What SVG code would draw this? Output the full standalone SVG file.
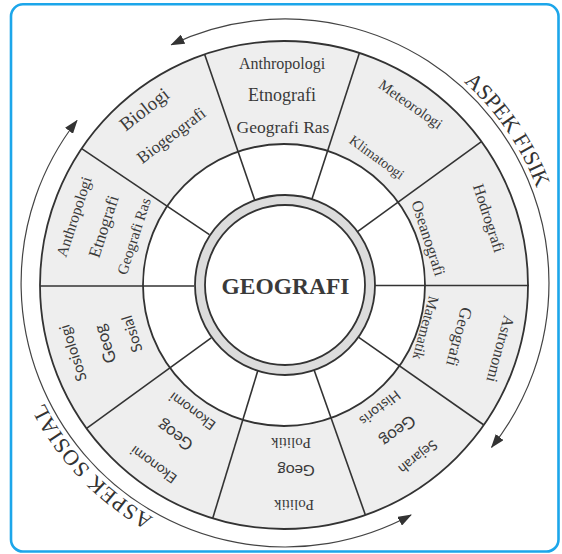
<svg xmlns="http://www.w3.org/2000/svg" width="562" height="554" viewBox="0 0 562 554">
<style>
.ring{stroke:#333;stroke-width:1.8}
.div{stroke:#333;stroke-width:1.6;fill:none}
.ann{stroke:#444;stroke-width:1.2;fill:none}
text{fill:#3a3a3a;text-anchor:middle}
.s{font-family:"Liberation Serif",serif}
.ss{font-family:Lato,"Open Sans",sans-serif}
.asp{font-family:"Liberation Serif",serif;font-size:22px;fill:#333}
</style>
<defs>
<marker id="ah" viewBox="0 0 14 10" refX="13" refY="5" markerWidth="14" markerHeight="10" markerUnits="userSpaceOnUse" orient="auto-start-reverse">
<path d="M0,0 L14,5 L0,10 z" fill="#333"/>
</marker>
<path id="pf" d="M400.8,40.2 A269 269 0 0 1 553.2,261.9"/>
<path id="ps" d="M208.6,540.9 A269 269 0 0 1 23.4,345.8"/>
</defs>
<rect x="11" y="4.3" width="547.5" height="547.2" rx="12" fill="#fff" stroke="#1ca6ea" stroke-width="2.6"/>

<g id="rings">
<circle cx="284" cy="285" r="244" fill="#eeeeee" class="ring"/>
<circle cx="284" cy="285" r="141" fill="#ffffff" class="ring"/>
</g>

<g id="connectors">
<line class="div" x1="374" y1="285.5" x2="529" y2="285.5"/>
<line class="div" x1="356.8" y1="232.1" x2="481.4" y2="141.6"/>
<line class="div" x1="311.8" y1="199.4" x2="359.4" y2="52.9"/>
<line class="div" x1="254.7" y1="199.9" x2="204.6" y2="54.3"/>
<line class="div" x1="209.4" y1="234.7" x2="81.7" y2="148.6"/>
<line class="div" x1="194" y1="286" x2="40" y2="286"/>
<line class="div" x1="211.2" y1="337.9" x2="86.6" y2="428.4"/>
<line class="div" x1="257.7" y1="371.1" x2="212.7" y2="518.3"/>
<line class="div" x1="314" y1="369.8" x2="365.4" y2="515"/>
<line class="div" x1="357.7" y1="336.6" x2="483.9" y2="425"/>
<path class="ann" d="M171.3,44.7 A264 264 0 0 1 491.6,447.3" marker-start="url(#ah)" marker-end="url(#ah)"/>
<path class="ann" d="M411,515 A264 264 0 0 1 77,120.5" marker-start="url(#ah)" marker-end="url(#ah)"/>
</g>

<g id="center">
<circle cx="285" cy="285" r="90" fill="#dcdcdc" class="ring"/>
<circle cx="285" cy="285" r="80" fill="#ffffff" class="ring"/>
<text class="s" x="285.5" y="286" dy="0.35em" font-size="23.5" font-weight="bold" fill="#333">GEOGRAFI</text>
</g>

<g id="aspek-fisik">
<text class="asp"><textPath href="#pf" startOffset="50%">ASPEK FISIK</textPath></text>
</g>
<g id="aspek-sosial">
<text class="asp" letter-spacing="0.8"><textPath href="#ps" startOffset="50%">ASPEK SOSIAL</textPath></text>
</g>

<g id="sec-top">
<text class="s" font-size="16" transform="translate(282,63)" dy="0.35em">Anthropologi</text>
<text class="s" font-size="18" transform="translate(282,95)" dy="0.35em">Etnografi</text>
<text class="s" font-size="17.5" transform="translate(283,127)" dy="0.35em">Geografi Ras</text>
</g>

<g id="sec-topright">
<text class="s" font-size="15" transform="translate(410.8,104) rotate(35)" dy="0.35em">Meteorologi</text>
<text class="s" font-size="14" transform="translate(377,157) rotate(36)" dy="0.35em">Klimatoogi</text>
</g>

<g id="sec-right1">
<text class="s" font-size="16" transform="translate(489,218) rotate(72)" dy="0.35em">Hodrografi</text>
<text class="s" font-size="16" transform="translate(428.6,238) rotate(72)" dy="0.35em">Oseanografi</text>
</g>

<g id="sec-right2">
<text class="s" font-size="16" transform="translate(500.7,349) rotate(105)" dy="0.35em">Astronomi</text>
<text class="s" font-size="17" transform="translate(459.5,337) rotate(105)" dy="0.35em">Geografi</text>
<text class="s" font-size="15" transform="translate(426,328) rotate(105)" dy="0.35em">Matematik</text>
</g>

<g id="sec-bottomright">
<text class="ss" font-size="14" transform="translate(418,457) rotate(142)" dy="0.35em">Sejarah</text>
<text class="ss" font-size="17" transform="translate(398,431) rotate(142)" dy="0.35em">Geog</text>
<text class="ss" font-size="14" transform="translate(380,408) rotate(142)" dy="0.35em">Historis</text>
</g>

<g id="sec-bottom">
<text class="s" font-size="15" transform="translate(294,505) rotate(180)" dy="0.35em">Politik</text>
<text class="ss" font-size="16" transform="translate(296,471) rotate(180)" dy="0.35em">Geog</text>
<text class="s" font-size="15" transform="translate(291,443) rotate(180)" dy="0.35em">Politik</text>
</g>

<g id="sec-bottomleft">
<text class="ss" font-size="14" transform="translate(153.5,464.6) rotate(216)" dy="0.35em">Ekonomi</text>
<text class="ss" font-size="17" transform="translate(175,435.5) rotate(216)" dy="0.35em">Geog</text>
<text class="ss" font-size="14" transform="translate(192.3,411.2) rotate(216)" dy="0.35em">Ekonomi</text>
</g>

<g id="sec-left2">
<text class="ss" font-size="15" transform="translate(73,353) rotate(-108)" dy="0.35em">Sosiologi</text>
<text class="ss" font-size="17" transform="translate(105,344) rotate(-108)" dy="0.35em">Geog</text>
<text class="ss" font-size="15" transform="translate(132,334) rotate(-108)" dy="0.35em">Sosial</text>
</g>

<g id="sec-left1">
<text class="s" font-size="15.5" transform="translate(73.8,216.7) rotate(-72)" dy="0.35em">Anthropologi</text>
<text class="s" font-size="17" transform="translate(103.3,226.3) rotate(-72)" dy="0.35em">Etnografi</text>
<text class="s" font-size="15" transform="translate(133.7,236.2) rotate(-72)" dy="0.35em">Geografi Ras</text>
</g>

<g id="sec-topleft">
<text class="s" font-size="19" transform="translate(144,109) rotate(-38)" dy="0.35em">Biologi</text>
<text class="s" font-size="17" transform="translate(171,135) rotate(-37)" dy="0.35em">Biogeografi</text>
</g>
</svg>
